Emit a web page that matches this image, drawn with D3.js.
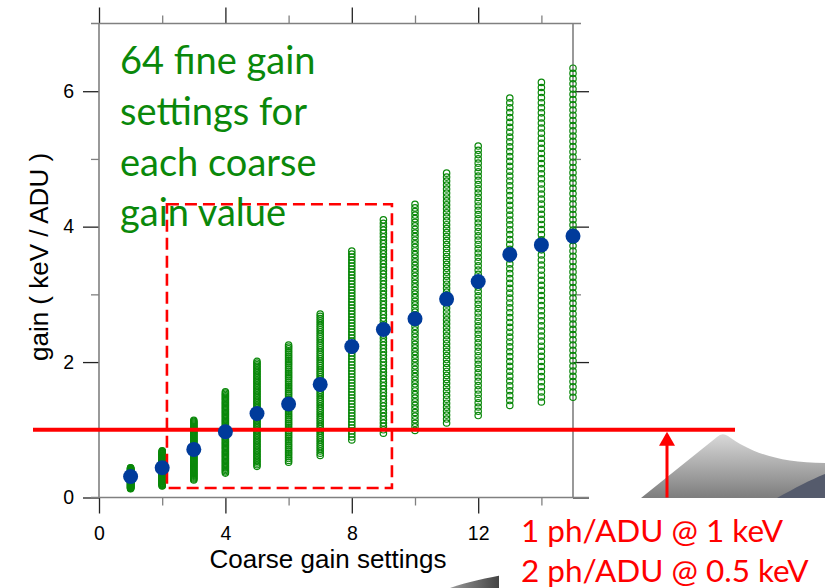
<!DOCTYPE html>
<html>
<head>
<meta charset="utf-8">
<script src="https://cdn.jsdelivr.net/npm/d3@7"></script>
<style>
  body { margin: 0; background: #fff; }
  svg { display: block; }
</style>
</head>
<body>
<svg id="chart" width="825" height="588"></svg>
<script>
// Coarse gain settings and the gain (keV/ADU) measured for each of them
const coarseSettings = [1, 2, 3, 4, 5, 6, 7, 8, 9, 10, 11, 12, 13, 14, 15];
// mean gain over the fine settings of each coarse step
const gainMean = [0.31, 0.44, 0.71, 0.97, 1.24, 1.38, 1.67, 2.23, 2.48, 2.64, 2.93, 3.19, 3.59, 3.73, 3.86];
// gain at the lowest and highest fine setting of each coarse step
const gainLow  = [0.13, 0.17, 0.26, 0.36, 0.46, 0.52, 0.62, 0.85, 0.95, 0.99, 1.10, 1.21, 1.36, 1.41, 1.48];
const gainHigh = [0.44, 0.69, 1.14, 1.56, 2.01, 2.25, 2.71, 3.64, 4.10, 4.33, 4.79, 5.19, 5.90, 6.13, 6.34];
const fineSteps = 64;

const xTicksMajor = [0, 4, 8, 12];
const xTicksMinor = [2, 6, 10, 14];
const yTicksMajor = [0, 2, 4, 6];
const yTicksMinor = [1, 3, 5];

const xTitle = "Coarse gain settings";
const yTitle = "gain ( keV / ADU )";
const noteLines = ["64 fine gain", "settings for", "each coarse", "gain value"];
const calibLines = ["1 ph/ADU @ 1 keV", "2 ph/ADU @ 0.5 keV"];
const calibGain = 1;                 // keV/ADU reference level
const zoomBoxX = [2.15, 9.27];       // coarse range highlighted by the dashed box
const zoomBoxY = [0.14, 4.33];       // gain range highlighted by the dashed box

const svg = d3.select("#chart");
const x = d3.scaleLinear().domain([0, 15]).range([99, 573]);
const y = d3.scaleLinear().domain([0, 7]).range([497.5, 23.5]);

// ---- slide decoration behind the plot ----
const defs = svg.append("defs");
const g1 = defs.append("linearGradient").attr("id", "swooshGray").attr("x1", 0).attr("y1", 0).attr("x2", 0).attr("y2", 1);
g1.append("stop").attr("offset", "0%").attr("stop-color", "#d9d9d9");
g1.append("stop").attr("offset", "100%").attr("stop-color", "#7d7d7d");
const g2 = defs.append("linearGradient").attr("id", "swooshDark").attr("x1", 0).attr("y1", 0).attr("x2", 1).attr("y2", 0);
g2.append("stop").attr("offset", "0%").attr("stop-color", "#9a9a9a");
g2.append("stop").attr("offset", "100%").attr("stop-color", "#1e1e1e");

svg.append("path")
  .attr("d", "M641,498 L717,437 Q722,432 728,436 C750,452 778,463 825,463 L825,498 Z")
  .attr("fill", "url(#swooshGray)");
svg.append("path")
  .attr("d", "M777,498 C795,488 810,480 825,474 L825,498 Z")
  .attr("fill", "#555b6c");
svg.append("path")
  .attr("d", "M450,588 C470,581 490,577 520,572 L520,588 Z")
  .attr("fill", "url(#swooshDark)");
// white panel under the calibration note
svg.append("rect").attr("x", 499).attr("y", 498).attr("width", 326).attr("height", 90).attr("fill", "#fff");

// ---- axes ----
const axisColor = "#808080";
function styleAxis(g, major) {
  g.select(".domain").remove();
  g.selectAll(".tick line").attr("stroke", major ? "#222" : axisColor).attr("stroke-width", 1.3);
  g.selectAll(".tick text").attr("fill", "#000")
    .style("font-family", "'Liberation Sans', Arial, sans-serif").style("font-size", "19.5px");
}
// bottom
svg.append("g").attr("transform", `translate(0,${y(0)})`)
  .call(d3.axisBottom(x).tickValues(xTicksMajor).tickSize(16).tickPadding(13).tickFormat(d3.format("d")))
  .call(g => styleAxis(g, true));
svg.append("g").attr("transform", `translate(0,${y(0)})`)
  .call(d3.axisBottom(x).tickValues(xTicksMinor).tickSize(8).tickFormat(""))
  .call(g => styleAxis(g, false));
// top
svg.append("g").attr("transform", `translate(0,${y(7)})`)
  .call(d3.axisTop(x).tickValues(xTicksMajor).tickSize(16).tickFormat(""))
  .call(g => styleAxis(g, true));
svg.append("g").attr("transform", `translate(0,${y(7)})`)
  .call(d3.axisTop(x).tickValues(xTicksMinor).tickSize(8).tickFormat(""))
  .call(g => styleAxis(g, false));
// left
svg.append("g").attr("transform", `translate(${x(0)},0)`)
  .call(d3.axisLeft(y).tickValues(yTicksMajor).tickSize(16).tickPadding(9).tickFormat(d3.format("d")))
  .call(g => styleAxis(g, true));
svg.append("g").attr("transform", `translate(${x(0)},0)`)
  .call(d3.axisLeft(y).tickValues(yTicksMinor).tickSize(8).tickFormat(""))
  .call(g => styleAxis(g, false));
// right
svg.append("g").attr("transform", `translate(${x(15)},0)`)
  .call(d3.axisRight(y).tickValues(yTicksMajor).tickSize(16).tickFormat(""))
  .call(g => styleAxis(g, true));
svg.append("g").attr("transform", `translate(${x(15)},0)`)
  .call(d3.axisRight(y).tickValues(yTicksMinor).tickSize(8).tickFormat(""))
  .call(g => styleAxis(g, false));

// frame lines
const frame = svg.append("g").attr("stroke", axisColor).attr("stroke-width", 1.6).attr("fill", "none");
frame.append("line").attr("x1", x(0) - 8).attr("x2", x(15) + 16).attr("y1", y(0)).attr("y2", y(0));
frame.append("line").attr("x1", x(0) - 8).attr("x2", x(15) + 8).attr("y1", y(7)).attr("y2", y(7));
frame.append("line").attr("x1", x(0)).attr("x2", x(0)).attr("y1", y(7)).attr("y2", y(0));
frame.append("line").attr("x1", x(15)).attr("x2", x(15)).attr("y1", y(7)).attr("y2", y(0));

// axis titles
svg.append("text").text(xTitle)
  .attr("x", 328).attr("y", 568).attr("text-anchor", "middle")
  .style("font-family", "'Liberation Sans', Arial, sans-serif").style("font-size", "26px");
svg.append("text").text(yTitle)
  .attr("transform", "translate(48,257) rotate(-90)").attr("text-anchor", "middle")
  .style("font-family", "'Liberation Sans', Arial, sans-serif").style("font-size", "26px");

// ---- fine-gain sweeps: one open circle per fine setting ----
const sweep = [];
coarseSettings.forEach((c, i) => {
  for (let k = 0; k < fineSteps; k++) {
    sweep.push({ coarse: c, gain: gainLow[i] + (gainHigh[i] - gainLow[i]) * k / (fineSteps - 1) });
  }
});
svg.append("g").selectAll("circle").data(sweep).join("circle")
  .attr("cx", d => x(d.coarse)).attr("cy", d => y(d.gain)).attr("r", 3.2)
  .attr("fill", "none").attr("stroke", "#0a880a").attr("stroke-width", 1.2);

// dashed box
svg.append("rect")
  .attr("x", x(zoomBoxX[0])).attr("y", y(zoomBoxY[1]))
  .attr("width", x(zoomBoxX[1]) - x(zoomBoxX[0])).attr("height", y(zoomBoxY[0]) - y(zoomBoxY[1]))
  .attr("fill", "none").attr("stroke", "#ff0000").attr("stroke-width", 2.6).attr("stroke-dasharray", "12,6");

// reference level 1 keV/ADU
svg.append("line")
  .attr("x1", 33).attr("x2", 735).attr("y1", y(calibGain)).attr("y2", y(calibGain))
  .attr("stroke", "#ff0000").attr("stroke-width", 4);

// mean gain
svg.append("g").selectAll("circle").data(coarseSettings).join("circle")
  .attr("cx", d => x(d)).attr("cy", (d, i) => y(gainMean[i])).attr("r", 7.5)
  .attr("fill", "#003b9b");

// arrow from the floor up to the reference level
const ax = 667;
svg.append("line").attr("x1", ax).attr("x2", ax).attr("y1", y(0)).attr("y2", y(calibGain) + 12)
  .attr("stroke", "#ff0000").attr("stroke-width", 3);
svg.append("path")
  .attr("d", `M${ax},${y(calibGain) + 2} L${ax - 8},${y(calibGain) + 16} L${ax + 8},${y(calibGain) + 16} Z`)
  .attr("fill", "#ff0000");

// annotations
const note = svg.append("text")
  .style("font-family", "Lato, 'Open Sans', sans-serif").style("font-size", "38px").attr("fill", "#0a880a");
noteLines.forEach((t, i) => note.append("tspan").attr("x", 120).attr("y", 74 + i * 50.8).text(t));

const calib = svg.append("text")
  .style("font-family", "Lato, 'Open Sans', sans-serif").style("font-size", "31.5px").attr("fill", "#ff0000");
calibLines.forEach((t, i) => calib.append("tspan").attr("x", 521).attr("y", 542 + i * 40).text(t));
</script>
</body>
</html>
